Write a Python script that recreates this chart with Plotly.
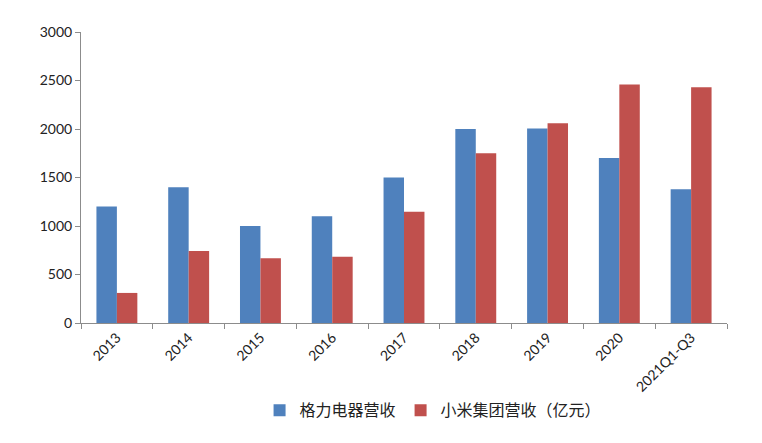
import plotly.graph_objects as go

categories = ["2013", "2014", "2015", "2016", "2017", "2018", "2019", "2020", "2021Q1-Q3"]
gree = [1200, 1400, 1000, 1100, 1500, 2000, 2005, 1700, 1380]
xiaomi = [310, 743, 668, 684, 1146, 1749, 2058, 2459, 2430]
series_names = ["格力电器营收", "小米集团营收（亿元）"]
y_ticks = [0, 500, 1000, 1500, 2000, 2500, 3000]

fig = go.Figure()
fig.add_trace(go.Bar(x=categories, y=gree, name=series_names[0], marker_color="#4F81BD", marker_line_width=0))
fig.add_trace(go.Bar(x=categories, y=xiaomi, name=series_names[1], marker_color="#C0504D", marker_line_width=0))

fig.update_layout(
    width=762, height=443,
    margin=dict(l=73, r=43, t=24, b=128, autoexpand=False),
    paper_bgcolor="white", plot_bgcolor="white",
    barmode="group", bargap=0.43, bargroupgap=0,
    font=dict(family="Lato, Noto Sans CJK SC, sans-serif", size=14, color="#222"),
    legend=dict(orientation="h", x=0.545, xanchor="center", y=-0.3, yanchor="middle",
                font=dict(family="Noto Sans CJK SC", size=16, color="#222"),
                itemwidth=30, tracegroupgap=0),
    showlegend=True,
)
fig.update_xaxes(
    type="category", tickangle=-45, showgrid=False, automargin=False,
    showline=True, linecolor="#8c8c8c", linewidth=1,
    ticks="outside", tickson="boundaries", ticklen=5, tickcolor="#8c8c8c",
    tickfont=dict(family="Lato", size=14, color="#222"),
)
fig.update_yaxes(
    range=[0, 3000], tickvals=y_ticks, showgrid=False, zeroline=False, automargin=False,
    showline=True, linecolor="#8c8c8c", linewidth=1,
    ticks="outside", ticklen=5, tickcolor="#8c8c8c",
    tickfont=dict(family="Lato", size=14, color="#222"),
)

fig.write_html("out.html")
